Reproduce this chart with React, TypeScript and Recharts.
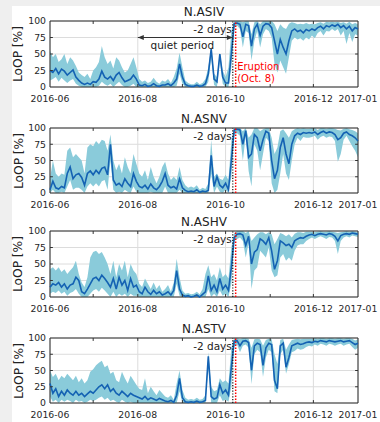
import { ComposedChart, Area, Line, XAxis, YAxis, CartesianGrid, ReferenceLine, ReferenceArea } from 'recharts';

// days since 2016-06-01
const DAYS = [
  0, 2, 4, 6, 8, 10, 12, 14, 16, 18, 20, 22, 24, 26, 28, 30, 32, 34, 36, 38,
  40, 42, 44, 46, 48, 50, 52, 54, 56, 58, 60, 62, 64, 66, 68, 70, 72, 74, 76, 78,
  80, 82, 84, 86, 88, 90, 92, 94, 96, 98, 100, 102, 104, 106, 108, 110, 112, 114, 116, 118,
  120, 122, 124, 126, 128, 130, 132, 134, 136, 138, 140, 142, 144, 146, 148, 150, 152, 154, 156, 158,
  160, 162, 164, 166, 168, 170, 172, 174, 176, 178, 180, 182, 184, 186, 188, 190, 192, 194, 196, 198,
  200, 202, 204, 206, 208, 210, 212, 214,
];
const X_TICKS = [0, 61, 122, 183, 214];
const X_LABELS = ['2016-06', '2016-08', '2016-10', '2016-12', '2017-01'];
const MONTH_TICKS = [30, 61, 92, 122, 153, 183];
const Y_TICKS = [0, 25, 50, 75, 100];
const PRE_DAY = 127; // Oct. 6
const ERUPTION_DAY = 129; // Oct. 8
const QUIET_START = 61;

// N.ASIV
const ASIV_MED = [
  25, 22, 28, 20, 27, 24, 18, 22, 26, 15, 10, 6, 4, 6, 4, 8, 7, 12, 24, 15,
  12, 16, 10, 18, 22, 14, 8, 10, 12, 18, 12, 3, 2, 4, 1, 2, 5, 2, 1, 3,
  3, 5, 2, 6, 12, 35, 15, 4, 2, 1, 1, 3, 1, 2, 5, 20, 58, 12, 8, 50,
  15, 6, 6, 50, 96, 97, 95, 76, 95, 93, 62, 88, 95, 78, 92, 96, 95, 90, 70, 50,
  72, 60, 50, 70, 85, 88, 84, 86, 82, 87, 85, 88, 86, 90, 92, 88, 93, 91, 94, 92,
  95, 90, 93, 88, 92, 85, 90, 88,
];
const ASIV_HIGH = [
  55, 45, 50, 38, 42, 50, 35, 45, 40, 32, 22, 18, 15, 20, 12, 25, 30, 38, 62, 45,
  35, 40, 28, 45, 40, 30, 22, 25, 35, 45, 30, 12, 8, 10, 6, 8, 14, 8, 5, 10,
  8, 12, 6, 15, 28, 52, 30, 10, 6, 4, 4, 8, 4, 6, 12, 30, 60, 20, 15, 52,
  25, 15, 30, 85, 100, 100, 100, 98, 100, 100, 80, 98, 100, 95, 100, 100, 100, 100, 95, 85,
  95, 90, 88, 96, 98, 97, 95, 96, 95, 97, 95, 96, 95, 97, 98, 96, 99, 98, 99, 98,
  99, 97, 98, 96, 99, 95, 97, 95,
];
const ASIV_LOW = [
  10, 12, 15, 8, 14, 10, 6, 10, 12, 5, 2, 0, 0, 0, 0, 0, 0, 2, 8, 4,
  2, 5, 0, 4, 8, 3, 0, 0, 2, 5, 0, 0, 0, 0, 0, 0, 0, 0, 0, 0,
  0, 0, 0, 0, 2, 20, 5, 0, 0, 0, 0, 0, 0, 0, 0, 8, 45, 3, 0, 40,
  5, 0, 0, 30, 90, 93, 88, 60, 85, 82, 40, 70, 85, 60, 80, 88, 85, 75, 35, 22,
  40, 30, 20, 45, 70, 75, 72, 74, 70, 75, 72, 78, 74, 82, 85, 78, 85, 84, 88, 85,
  88, 78, 85, 65, 82, 68, 80, 78,
];

// N.ASNV
const ASNV_MED = [
  5, 18, 8, 6, 10, 8, 30, 40, 22, 28, 30, 24, 12, 30, 34, 28, 35, 30, 38, 40,
  28, 75, 20, 12, 15, 10, 22, 15, 10, 30, 18, 10, 8, 12, 6, 14, 8, 5, 10, 18,
  30, 12, 8, 10, 6, 22, 8, 4, 2, 3, 2, 5, 1, 3, 2, 4, 58, 10, 25, 12,
  8, 15, 5, 50, 97, 98, 97, 75, 96, 55, 60, 90, 85, 65, 82, 95, 92, 50, 22, 35,
  70, 85, 60, 45, 75, 88, 92, 90, 93, 92, 93, 92, 94, 90, 93, 95, 92, 94, 93, 90,
  82, 85, 92, 94, 90, 88, 85, 80,
];
const ASNV_HIGH = [
  22, 50, 30, 25, 30, 28, 65, 70, 55, 60, 55, 50, 30, 70, 75, 72, 80, 75, 82, 80,
  65, 90, 50, 35, 45, 30, 55, 40, 30, 60, 45, 30, 25, 35, 20, 40, 25, 15, 25, 40,
  48, 30, 20, 25, 20, 40, 20, 12, 8, 10, 8, 12, 5, 8, 6, 15, 82, 25, 30, 22,
  20, 28, 20, 80, 100, 100, 100, 95, 100, 85, 90, 100, 100, 95, 98, 100, 100, 85, 60, 70,
  95, 98, 92, 85, 95, 98, 100, 99, 100, 99, 99, 100, 100, 97, 100, 100, 99, 100, 100, 99,
  97, 96, 99, 100, 98, 97, 95, 92,
];
const ASNV_LOW = [
  0, 5, 0, 0, 2, 0, 10, 20, 5, 8, 8, 5, 0, 10, 15, 10, 15, 10, 18, 20,
  5, 50, 5, 0, 2, 0, 5, 2, 0, 10, 2, 0, 0, 0, 0, 2, 0, 0, 0, 0,
  10, 0, 0, 0, 0, 5, 0, 0, 0, 0, 0, 0, 0, 0, 0, 0, 30, 0, 10, 2,
  0, 5, 0, 25, 90, 92, 88, 50, 88, 34, 10, 75, 65, 35, 60, 85, 80, 15, 0, 5,
  30, 60, 30, 20, 50, 75, 85, 80, 86, 85, 85, 86, 88, 82, 86, 88, 85, 87, 86, 80,
  48, 60, 82, 88, 80, 72, 65, 55,
];

// N.ASHV
const ASHV_MED = [
  15, 20, 18, 22, 15, 20, 12, 18, 20, 30, 25, 8, 5, 12, 20, 28, 30, 25, 33, 28,
  22, 15, 28, 12, 30, 18, 25, 10, 28, 15, 18, 8, 5, 15, 8, 4, 10, 5, 8, 3,
  5, 8, 3, 10, 40, 12, 3, 1, 2, 0, 1, 3, 0, 4, 8, 32, 10, 18, 8, 28,
  12, 18, 10, 45, 90, 95, 96, 94, 78, 92, 50, 68, 72, 88, 85, 80, 90, 70, 42, 55,
  85, 82, 78, 80, 75, 85, 88, 90, 89, 92, 94, 95, 93, 95, 96, 95, 94, 96, 95, 92,
  85, 93, 95, 96, 95, 97, 96, 95,
];
const ASHV_HIGH = [
  42, 45, 40, 45, 38, 42, 35, 40, 45, 55, 35, 22, 15, 30, 60, 68, 70, 65, 68, 60,
  50, 35, 55, 30, 50, 40, 55, 30, 50, 40, 35, 20, 15, 28, 20, 12, 22, 12, 18, 8,
  12, 18, 8, 22, 58, 30, 10, 5, 6, 4, 5, 8, 4, 12, 35, 48, 30, 35, 25, 45,
  30, 35, 28, 75, 97, 100, 100, 100, 97, 100, 85, 90, 95, 98, 98, 95, 98, 95, 80, 88,
  97, 95, 92, 95, 90, 96, 98, 98, 97, 99, 99, 99, 98, 99, 100, 99, 99, 100, 99, 98,
  97, 98, 99, 100, 99, 100, 99, 98,
];
const ASHV_LOW = [
  5, 8, 6, 10, 5, 8, 2, 6, 8, 12, 5, 0, 0, 0, 5, 10, 12, 8, 14, 10,
  5, 0, 8, 0, 5, 2, 5, 0, 5, 2, 2, 0, 0, 0, 0, 0, 0, 0, 0, 0,
  0, 0, 0, 0, 20, 2, 0, 0, 0, 0, 0, 0, 0, 0, 0, 12, 0, 5, 0, 10,
  2, 5, 0, 20, 85, 88, 90, 85, 60, 82, 12, 40, 45, 70, 65, 60, 75, 40, 30, 33,
  60, 65, 55, 60, 55, 70, 78, 80, 80, 85, 88, 90, 88, 90, 92, 90, 88, 91, 90, 85,
  65, 85, 90, 92, 90, 93, 92, 91,
];

// N.ASTV
const ASTV_MED = [
  30, 15, 22, 10, 18, 12, 20, 15, 12, 18, 12, 15, 10, 14, 18, 15, 20, 25, 28, 22,
  28, 18, 22, 15, 12, 18, 14, 10, 15, 12, 10, 8, 6, 10, 5, 8, 6, 4, 7, 5,
  3, 2, 4, 1, 12, 38, 8, 2, 1, 2, 1, 3, 1, 2, 4, 72, 10, 6, 8, 28,
  15, 20, 12, 55, 95, 96, 88, 95, 96, 93, 50, 88, 92, 90, 58, 85, 92, 90, 35, 22,
  88, 92, 55, 70, 88, 90, 92, 90, 91, 93, 94, 93, 95, 94, 96, 95, 94, 96, 95, 94,
  95, 96, 94, 95, 96, 93, 90, 92,
];
const ASTV_HIGH = [
  50, 40, 45, 35, 42, 38, 45, 40, 35, 42, 32, 38, 30, 35, 48, 52, 58, 62, 65, 55,
  58, 45, 48, 35, 32, 48, 38, 30, 42, 35, 28, 22, 20, 38, 15, 25, 18, 12, 20, 15,
  10, 8, 12, 5, 30, 50, 20, 8, 5, 6, 5, 8, 5, 6, 12, 78, 25, 18, 20, 38,
  32, 35, 30, 85, 100, 100, 98, 100, 100, 99, 85, 98, 99, 98, 88, 97, 99, 98, 75, 60,
  97, 99, 82, 90, 97, 98, 99, 98, 99, 99, 99, 99, 100, 99, 100, 100, 99, 100, 100, 99,
  100, 100, 99, 100, 100, 99, 96, 98,
];
const ASTV_LOW = [
  10, 2, 5, 0, 5, 2, 5, 3, 0, 5, 2, 3, 0, 2, 5, 3, 5, 8, 10, 5,
  8, 3, 5, 2, 0, 5, 2, 0, 2, 0, 0, 0, 0, 0, 0, 0, 0, 0, 0, 0,
  0, 0, 0, 0, 0, 18, 0, 0, 0, 0, 0, 0, 0, 0, 0, 55, 0, 0, 0, 12,
  3, 5, 2, 25, 88, 90, 78, 88, 90, 85, 29, 75, 82, 78, 40, 70, 82, 78, 18, 15,
  75, 82, 45, 60, 78, 80, 84, 82, 83, 86, 88, 87, 90, 88, 91, 90, 88, 91, 90, 88,
  90, 91, 88, 90, 91, 86, 82, 85,
];

const BAND = '#8acbda';
const MEDIAN = '#1462b3';
const INK = '#262626';

const QuietArrow = (p: any) => {
  const { x1, y1, x2 } = p;
  const l = Math.min(x1, x2);
  const r = Math.max(x1, x2);
  return (
    <g>
      <line x1={l} y1={y1} x2={r} y2={y1} stroke="#333" strokeWidth={1} />
      <path d={`M${l},${y1} L${l + 6},${y1 - 2.5} L${l + 6},${y1 + 2.5} Z`} fill="#333" />
      <path d={`M${r},${y1} L${r - 6},${y1 - 2.5} L${r - 6},${y1 + 2.5} Z`} fill="#333" />
      <text x={(l + r) / 2 - 3} y={y1 + 11} textAnchor="middle" fontSize={10.5} fill="#222">
        quiet period
      </text>
    </g>
  );
};

const dayLabel = ({ viewBox }: any) => (
  <text x={viewBox.x - 1} y={viewBox.y + 12} textAnchor="end" fontSize={10.5} fill="#222">
    -2 days
  </text>
);

const eruptionLabel = ({ viewBox }: any) => (
  <g>
    <text x={viewBox.x + 1.5} y={viewBox.y + 49} fontSize={10} fill="#ff0000">Eruption</text>
    <text x={viewBox.x + 1.5} y={viewBox.y + 60.5} fontSize={10} fill="#ff0000">(Oct. 8)</text>
  </g>
);

interface PanelProps {
  title: string;
  top: number;
  h: number;
  med: number[];
  low: number[];
  high: number[];
  first?: boolean;
}

function Panel({ title, top, h, med, low, high, first }: PanelProps) {
  const data = DAYS.map((d, i) => ({
    d,
    m: med[i],
    band: [Math.min(low[i], med[i]), Math.max(high[i], med[i])],
  }));
  return (
    <>
      <div
        style={{
          position: 'absolute', left: 50, width: 308, top: top - 16,
          textAlign: 'center', fontSize: 12, lineHeight: '14px', color: '#222',
        }}
      >
        {title}
      </div>
      <div
        style={{
          position: 'absolute', left: 18 - h / 2, top: top + h / 2 - 7, width: h, height: 14,
          lineHeight: '14px', textAlign: 'center', fontSize: 12.2, color: '#222',
          transform: 'rotate(-90deg)', whiteSpace: 'nowrap',
        }}
      >
        LoOP [%]
      </div>
      <div style={{ position: 'absolute', left: 0, top: top - 10 }}>
        <ComposedChart width={380} height={h + 32} data={data} margin={{ top: 10, right: 22, bottom: 0, left: 10 }}>
          <CartesianGrid stroke="#dcdcdc" strokeWidth={1} />
          <XAxis
            dataKey="d"
            type="number"
            domain={[0, 214]}
            ticks={X_TICKS}
            interval={0}
            tickFormatter={(v) => X_LABELS[X_TICKS.indexOf(v)]}
            tickLine={false}
            axisLine={false}
            height={22}
            tick={{ fontSize: 9.3, fill: INK }}
          />
          <YAxis
            type="number"
            domain={[0, 100]}
            ticks={Y_TICKS}
            interval={0}
            tickLine={false}
            axisLine={false}
            width={40}
            tickSize={2}
            tickMargin={2}
            tick={{ fontSize: 9.3, fill: INK }}
          />
          <Area
            dataKey="band"
            stroke="none"
            fill={BAND}
            fillOpacity={1}
            dot={false}
            activeDot={false}
            isAnimationActive={false}
          />
          <Line
            dataKey="m"
            stroke={MEDIAN}
            strokeWidth={1.6}
            dot={false}
            activeDot={false}
            isAnimationActive={false}
          />
          {MONTH_TICKS.map((x) => (
            <ReferenceLine key={`b${x}`} segment={[{ x, y: 0 }, { x, y: 4.5 }]} stroke="#333" />
          ))}
          {MONTH_TICKS.map((x) => (
            <ReferenceLine key={`t${x}`} segment={[{ x, y: 100 }, { x, y: 95.5 }]} stroke="#333" />
          ))}
          {Y_TICKS.slice(1, 4).map((y) => (
            <ReferenceLine key={`l${y}`} segment={[{ x: 0, y }, { x: 2, y }]} stroke="#333" />
          ))}
          {Y_TICKS.slice(1, 4).map((y) => (
            <ReferenceLine key={`r${y}`} segment={[{ x: 212, y }, { x: 214, y }]} stroke="#333" />
          ))}
          <ReferenceLine x={PRE_DAY} stroke="#111" strokeWidth={1.2} strokeDasharray="1.2 1.6" label={dayLabel} />
          <ReferenceLine
            x={ERUPTION_DAY}
            stroke="#ff0000"
            strokeWidth={1.5}
            strokeDasharray="1.5 1.5"
            label={first ? eruptionLabel : undefined}
          />
          {first && (
            <ReferenceLine
              segment={[{ x: QUIET_START, y: 75 }, { x: PRE_DAY, y: 75 }]}
              shape={QuietArrow}
            />
          )}
          <ReferenceArea x1={0} x2={214} y1={0} y2={100} fill="none" fillOpacity={0} stroke="#2b2b2b" strokeWidth={1} />
        </ComposedChart>
      </div>
    </>
  );
}

export default function App() {
  return (
    <div
      style={{
        position: 'absolute', left: 0, top: 0, width: 380, height: 422, overflow: 'hidden',
        background: '#efefef', fontFamily: '"DejaVu Sans", sans-serif',
      }}
    >
      <div style={{ position: 'absolute', left: 12, top: 6, right: 0, bottom: 0, background: '#fff' }} />
      <Panel title="N.ASIV" top={21} h={66} med={ASIV_MED} low={ASIV_LOW} high={ASIV_HIGH} first />
      <Panel title="N.ASNV" top={128} h={65} med={ASNV_MED} low={ASNV_LOW} high={ASNV_HIGH} />
      <Panel title="N.ASHV" top={231} h={66} med={ASHV_MED} low={ASHV_LOW} high={ASHV_HIGH} />
      <Panel title="N.ASTV" top={338} h={65} med={ASTV_MED} low={ASTV_LOW} high={ASTV_HIGH} />
    </div>
  );
}
